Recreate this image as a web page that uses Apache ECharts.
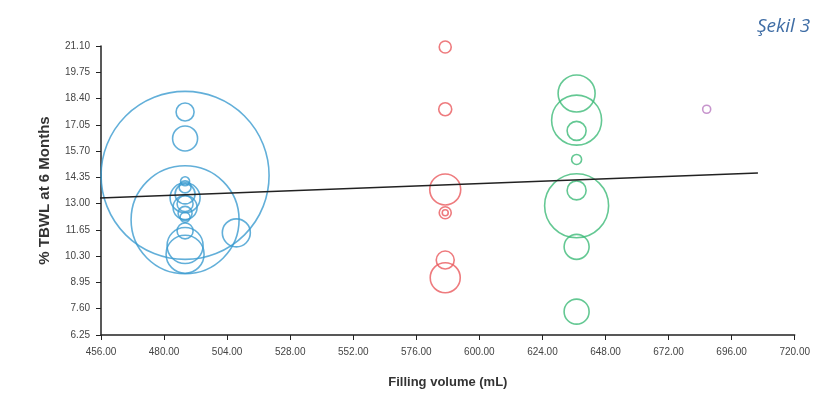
<!DOCTYPE html>
<html>
<head>
<meta charset="utf-8">
<script src="https://cdn.jsdelivr.net/npm/echarts@6/dist/echarts.min.js"></script>
<style>
  html, body { margin: 0; padding: 0; background: #fff; }
  #chart { width: 813px; height: 398px; }
</style>
</head>
<body>
<div id="chart"></div>
<script>
// [filling volume, %TBWL, bubble size]
const blueGroup = [
  [488, 14.45, 168], [488, 12.17, 108], [488, 17.71, 18], [488, 16.35, 25],
  [488, 14.15, 9], [488, 13.86, 12], [488, 13.3, 30], [488, 13.5, 20],
  [488, 13.0, 16], [488, 12.8, 24], [488, 12.5, 14], [488, 12.3, 10],
  [488, 11.6, 16], [488, 10.85, 36], [488, 10.4, 38], [507.5, 11.5, 28]
];
const redGroup = [
  [587, 21.05, 12], [587, 17.85, 13], [587, 13.73, 31], [587, 12.53, 12],
  [587, 12.53, 6], [587, 10.1, 18], [587, 9.19, 30]
];
const greenGroup = [
  [637, 18.66, 37], [637, 17.29, 50], [637, 16.74, 19], [637, 15.27, 10],
  [637, 13.68, 19], [637, 12.89, 64], [637, 10.78, 25], [637, 7.45, 25]
];
const purpleGroup = [
  [686.5, 17.85, 8]
];
const trendLine = [[452, 13.27], [706, 14.58]];

const xMin = 456, xMax = 720, xStep = 24;
const yMin = 6.25, yMax = 21.1, yStep = 1.35;

const chart = echarts.init(document.getElementById("chart"));

function bubbles(name, data, color) {
  return {
    name: name,
    type: "scatter",
    data: data,
    symbolSize: (d) => d[2],
    clip: false,
    itemStyle: {
      color: "rgba(0,0,0,0)",
      borderColor: color,
      borderWidth: 1.6,
    },
    emphasis: { disabled: true },
  };
}

const tickLabel = {
  formatter: (v) => v.toFixed(2),
  fontFamily: "Liberation Sans",
  fontSize: 10,
  color: "#444",
};

const option = {
  animation: false,
  backgroundColor: "#fff",
  title: {
    text: "Şekil 3",
    left: 752,
    top: 12,
    textStyle: {
      fontFamily: "Open Sans",
      fontStyle: "italic",
      fontWeight: "normal",
      fontSize: 19,
      color: "#3f6da5",
    },
  },
  grid: {
    left: 101,
    right: 15,
    top: 46,
    bottom: 63,
  },
  xAxis: {
    type: "value",
    min: xMin,
    max: xMax,
    interval: xStep,
    name: "Filling volume (mL)",
    nameLocation: "middle",
    nameGap: 41,
    nameTextStyle: {
      fontFamily: "Liberation Sans",
      fontSize: 13,
      fontWeight: "bold",
      color: "#333",
    },
    splitLine: { show: false },
    axisLine: { lineStyle: { color: "#222", width: 1.5 } },
    axisTick: { show: true, length: 5, lineStyle: { color: "#222" } },
    axisLabel: Object.assign({ margin: 12 }, tickLabel),
  },
  yAxis: {
    type: "value",
    min: yMin,
    max: yMax,
    interval: yStep,
    name: "% TBWL at 6 Months",
    nameLocation: "middle",
    nameGap: 49,
    nameTextStyle: {
      fontFamily: "Liberation Sans",
      fontSize: 15,
      fontWeight: "bold",
      color: "#333",
    },
    splitLine: { show: false },
    axisLine: { show: true, lineStyle: { color: "#222", width: 1.5 } },
    axisTick: { show: true, length: 5, lineStyle: { color: "#222" } },
    axisLabel: Object.assign({ margin: 11 }, tickLabel),
  },
  series: [
    bubbles("blue", blueGroup, "#3b9bcf"),
    bubbles("red", redGroup, "#ea5a5e"),
    bubbles("green", greenGroup, "#3dba78"),
    bubbles("purple", purpleGroup, "#b97bc0"),
    {
      name: "trend",
      type: "line",
      data: trendLine,
      showSymbol: false,
      clip: false,
      lineStyle: { color: "#222", width: 1.5 },
      emphasis: { disabled: true },
    },
  ],
};

chart.setOption(option);
</script>
</body>
</html>
